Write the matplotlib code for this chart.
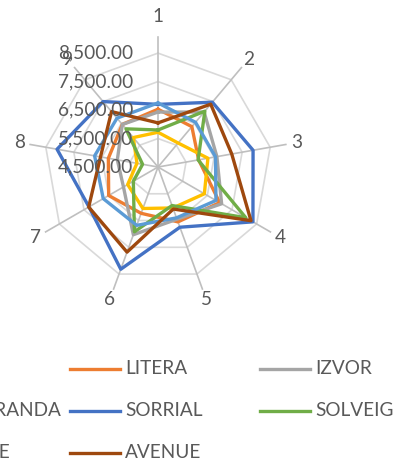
import numpy as np
import matplotlib.pyplot as plt
import matplotlib.transforms as mtransforms
from matplotlib.lines import Line2D

plt.rcParams['font.family'] = ['Lato', 'DejaVu Sans']

# axis categories and radial ticks
categories = ['1', '2', '3', '4', '5', '6', '7', '8', '9']
r_ticks = [4500, 5500, 6500, 7500, 8500]

# series values
litera = [6530, 6350, 5950, 7000, 6550, 6230, 6500, 6270, 6450]
izvor = [6430, 7020, 6600, 7080, 6450, 7030, 5900, 5950, 6450]
veranda = [5720, 5600, 6280, 6380, 6030, 6050, 5730, 5250, 5850]
sorrial = [6700, 7470, 7890, 8350, 6750, 8320, 7300, 8100, 7500]
solveig = [5800, 7060, 5930, 8060, 5940, 6920, 5500, 5050, 6250]
arcade = [6750, 6550, 6550, 6850, 6400, 6680, 6720, 6760, 6740]
avenue = [6050, 7380, 7130, 8270, 6070, 7680, 7310, 6550, 7040]

series_names = ['LITERA', 'IZVOR', 'MA VERANDA', 'SORRIAL', 'SOLVEIG', 'ARCADE', 'AVENUE']
series_values = [litera, izvor, veranda, sorrial, solveig, arcade, avenue]
series_colors = ['#ED7D31', '#A5A5A5', '#FFC000', '#4472C4', '#70AD47', '#5B9BD5', '#9E480E']

TXT = '#595959'
FS = 13.7
W, H = 394, 466

fig = plt.figure(figsize=(W / 100, H / 100), dpi=100)
ax = fig.add_axes([0.0685, 0.3605, 0.665, 0.5622], projection='polar')
ax.set_theta_offset(np.pi / 2)
ax.set_theta_direction(-1)
ax.set_ylim(4500, 9100)
ax.set_xticks([])
ax.set_yticks([])
ax.spines['polar'].set_visible(False)
ax.set_facecolor('none')

theta = np.linspace(0, 2 * np.pi, len(categories), endpoint=False)
closed = np.append(theta, theta[0])

# polygon grid + spokes
for level in r_ticks[1:]:
    ax.plot(closed, [level] * len(closed), color='#D9D9D9', lw=1.2, zorder=1)
for t in theta:
    ax.plot([t, t], [r_ticks[0], 9060], color='#BFBFBF', lw=1.2, zorder=1)

for vals, c in zip(series_values, series_colors):
    ax.plot(closed, vals + vals[:1], color=c, lw=2.4, zorder=3)

# radial labels left of axis 1
lab_tr = mtransforms.offset_copy(ax.transData, fig=fig, x=-25, y=0, units='dots')
for v in r_ticks:
    ax.text(0, v, f'{v:,.2f}', transform=lab_tr, ha='right', va='center',
            fontsize=FS, color=TXT, zorder=5, clip_on=False)

# category labels
for t, name in zip(theta, categories):
    r = 9800 if name == '1' else 9450
    ax.text(t, r, name, ha='center', va='center', fontsize=FS, color=TXT, clip_on=False)

# legend, 3 columns, left column runs off the canvas
legend_names = [None] + series_names
legend_colors = [None] + series_colors
for i, (name, c) in enumerate(zip(legend_names, legend_colors)):
    if name is None:
        continue
    row, col = divmod(i, 3)
    x0 = -120 + col * 190
    y = 1 - (369 + row * 42) / H
    fig.add_artist(Line2D([x0 / W, (x0 + 50) / W], [y, y], color=c, lw=2.4,
                          transform=fig.transFigure))
    fig.text((x0 + 55) / W, y, name, ha='left', va='center', fontsize=FS, color=TXT)

fig.savefig('out.png', dpi=100, facecolor='white')
